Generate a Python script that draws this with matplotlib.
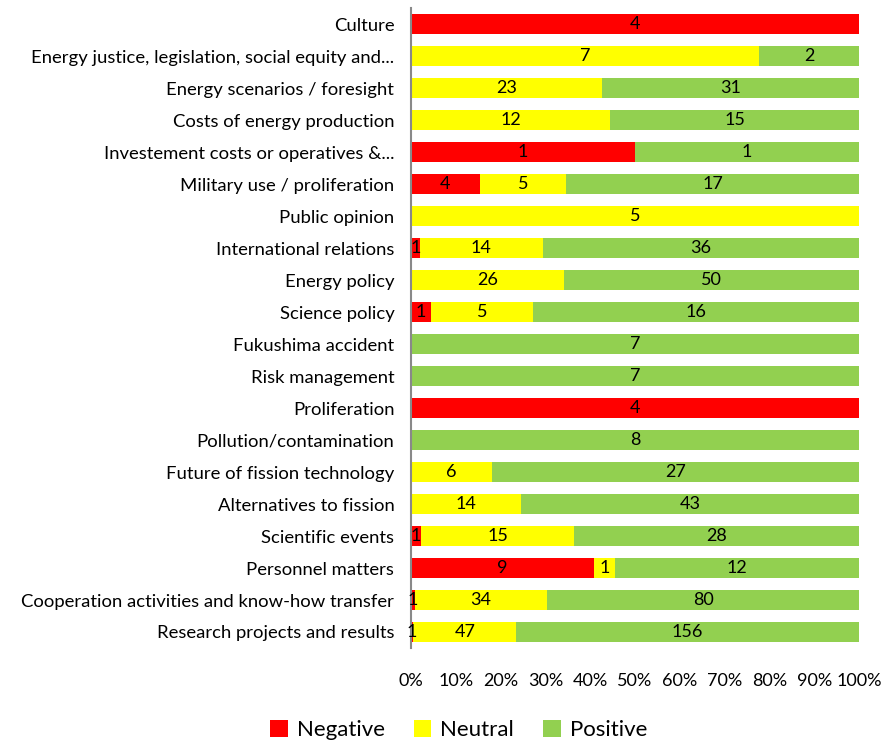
import matplotlib.pyplot as plt
import numpy as np

categories = [
    'Culture',
    'Energy justice, legislation, social equity and...',
    'Energy scenarios / foresight',
    'Costs of energy production',
    'Investement costs or operatives &...',
    'Military use / proliferation',
    'Public opinion',
    'International relations',
    'Energy policy',
    'Science policy',
    'Fukushima accident',
    'Risk management',
    'Proliferation',
    'Pollution/contamination',
    'Future of fission technology',
    'Alternatives to fission',
    'Scientific events',
    'Personnel matters',
    'Cooperation activities and know-how transfer',
    'Research projects and results',
]
negative = [4, 0, 0, 0, 1, 4, 0, 1, 0, 1, 0, 0, 4, 0, 0, 0, 1, 9, 1, 1]
neutral = [0, 7, 23, 12, 0, 5, 5, 14, 26, 5, 0, 0, 0, 0, 6, 14, 15, 1, 34, 47]
positive = [0, 2, 31, 15, 1, 17, 0, 36, 50, 16, 7, 7, 0, 8, 27, 43, 28, 12, 80, 156]

series = [('Negative', negative, '#FF0000'),
          ('Neutral', neutral, '#FFFF00'),
          ('Positive', positive, '#92D050')]

plt.rcParams['font.family'] = ['Lato', 'DejaVu Sans']

neg = np.array(negative, dtype=float)
neu = np.array(neutral, dtype=float)
pos = np.array(positive, dtype=float)
total = neg + neu + pos

fig = plt.figure(figsize=(8.85, 7.42), dpi=100)
ax = fig.add_axes([0.4644, 0.1267, 0.5062, 0.8623])

y = np.arange(len(categories))
left = np.zeros(len(categories))
for name, vals, color in series:
    v = np.array(vals, dtype=float)
    frac = v / total
    ax.barh(y, frac, left=left, height=0.62, color=color, label=name)
    for i in range(len(categories)):
        if v[i] > 0:
            ax.text(left[i] + frac[i] / 2, y[i], str(int(v[i])), ha='center', va='center',
                    fontsize=13, color='black')
    left += frac

ax.set_ylim(len(categories) - 0.5, -0.5)
ax.set_xlim(0, 1)
ax.set_yticks(y)
ax.set_yticklabels(categories, fontsize=13.3)
ax.set_xticks(np.linspace(0, 1, 11))
ax.set_xticklabels([f'{int(p)}%' for p in np.linspace(0, 100, 11)], fontsize=13)
ax.tick_params(axis='y', length=0, pad=12)
ax.tick_params(axis='x', length=0, pad=18)
for s in ['top', 'right', 'bottom']:
    ax.spines[s].set_visible(False)
ax.spines['left'].set_color('#898989')
ax.spines['left'].set_linewidth(1.5)

fig.legend(loc='lower center', ncol=3, frameon=False, fontsize=16,
           bbox_to_anchor=(0.518, -0.024), handlelength=0.8, handleheight=0.8,
           columnspacing=1.3, handletextpad=0.4)

fig.savefig('out.png', dpi=100)
